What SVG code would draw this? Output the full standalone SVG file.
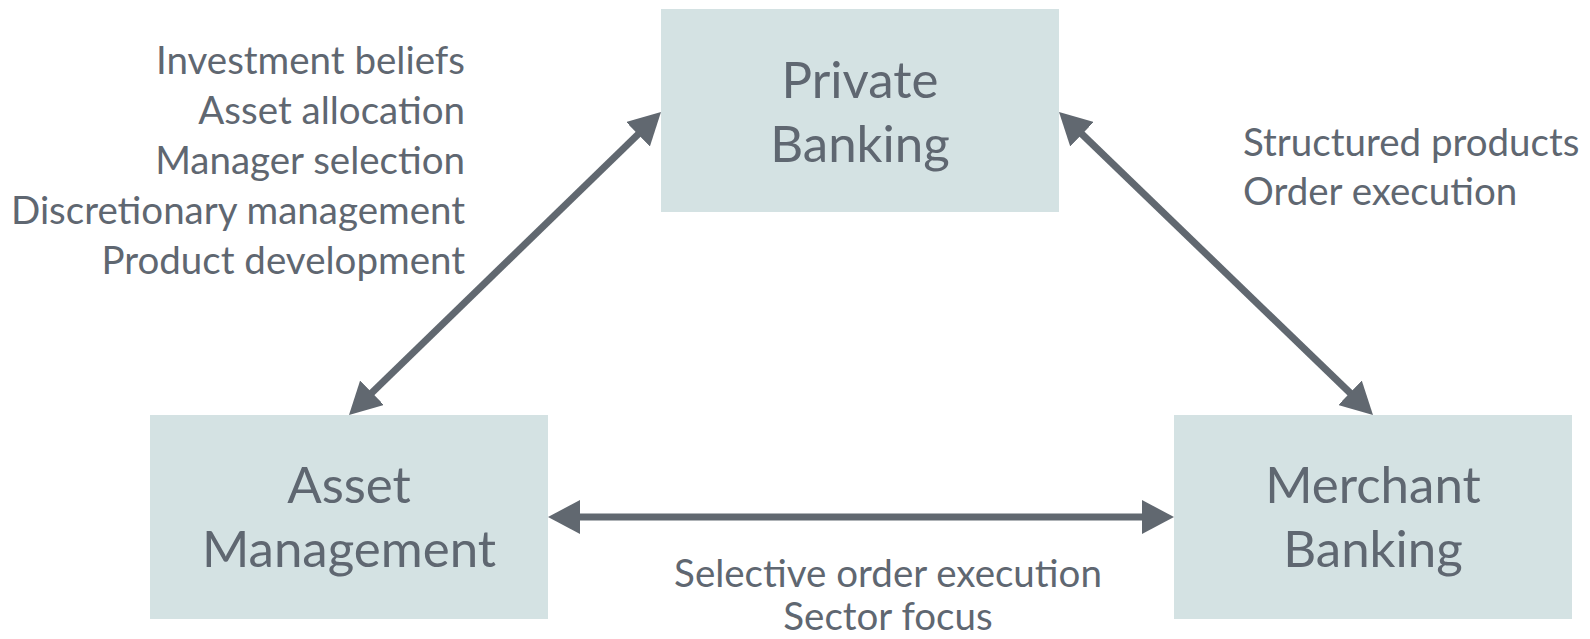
<svg xmlns="http://www.w3.org/2000/svg" width="1590" height="639" viewBox="0 0 1590 639">
  <style>
    .box { fill: #d4e2e3; }
    .node-label { font-family: Lato, "Liberation Sans", sans-serif; font-size: 51px; fill: #5f6771; text-anchor: middle; }
    .edge-label { font-family: Lato, "Liberation Sans", sans-serif; font-size: 38.5px; fill: #5f6771; }
    .conn { stroke: #616870; stroke-width: 7; fill: none; marker-start: url(#head); marker-end: url(#head); }
  </style>
  <defs>
    <marker id="head" markerUnits="userSpaceOnUse" markerWidth="32" markerHeight="34" refX="12" refY="17" orient="auto-start-reverse" viewBox="0 0 32 34">
      <path d="M0,0 L32,17 L0,34 Z" fill="#616870"/>
    </marker>
  </defs>
  <rect width="1590" height="639" fill="#ffffff"/>

  <g id="connectors">
    <line class="conn" x1="363.35" y1="401.07" x2="646.65" y2="125.93"/>
    <line class="conn" x1="1073.39" y1="125.89" x2="1358.61" y2="401.11"/>
    <line class="conn" x1="568" y1="517" x2="1154" y2="517"/>
  </g>

  <g id="node-private-banking">
    <rect class="box" x="661" y="9" width="398" height="203"/>
    <text class="node-label" x="860" y="98">Private</text>
    <text class="node-label" x="860" y="162">Banking</text>
  </g>

  <g id="node-asset-management">
    <rect class="box" x="150" y="415" width="398" height="204"/>
    <text class="node-label" x="349" y="503">Asset</text>
    <text class="node-label" x="349" y="567">Management</text>
  </g>

  <g id="node-merchant-banking">
    <rect class="box" x="1174" y="415" width="398" height="204"/>
    <text class="node-label" x="1373" y="503">Merchant</text>
    <text class="node-label" x="1373" y="567">Banking</text>
  </g>

  <g id="labels-am-pb">
    <text class="edge-label" x="465" y="74" text-anchor="end">Investment beliefs</text>
    <text class="edge-label" x="465" y="124" text-anchor="end">Asset allocation</text>
    <text class="edge-label" x="465" y="174" text-anchor="end">Manager selection</text>
    <text class="edge-label" x="465" y="224" text-anchor="end">Discretionary management</text>
    <text class="edge-label" x="465" y="274" text-anchor="end">Product development</text>
  </g>

  <g id="labels-pb-mb">
    <text class="edge-label" x="1243" y="156">Structured products</text>
    <text class="edge-label" x="1243" y="205">Order execution</text>
  </g>

  <g id="labels-am-mb">
    <text class="edge-label" x="888" y="587" text-anchor="middle">Selective order execution</text>
    <text class="edge-label" x="888" y="630" text-anchor="middle">Sector focus</text>
  </g>
</svg>
